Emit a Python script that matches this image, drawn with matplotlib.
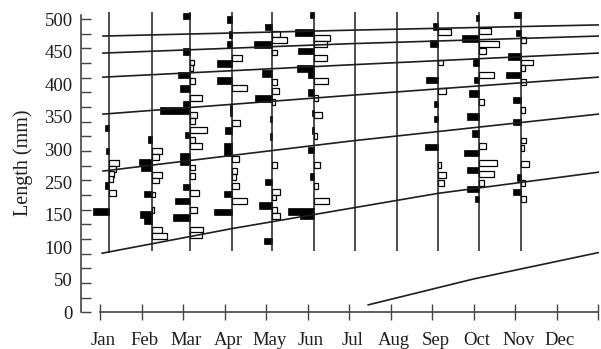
import numpy as np
import matplotlib
matplotlib.use("Agg")
from matplotlib import pyplot as plt
from matplotlib.ticker import FixedLocator

plt.rcParams['font.family'] = ['Liberation Serif', 'DejaVu Serif']

months = ["Jan", "Feb", "Mar", "Apr", "May", "Jun",
          "Jul", "Aug", "Sep", "Oct", "Nov", "Dec"]
y_labels = ["0", "50", "100", "150", "250", "300", "350", "400", "450", "500"]

# sampling date of each monthly haul, in months from 1 Jan
sample_names = ["Jan", "Feb", "Mar", "Apr", "May", "Jun",
                "Jul", "Aug", "Sep", "Oct", "Nov"]
sample_month = [0.22, 1.25, 2.16, 3.18, 4.15, 5.16,
                6.14, 7.16, 8.14, 9.13, 10.14]

# length-frequency per haul: (class midpoint in mm, frequency)
# dark = drawn to the left of the haul line, light = to the right
jan_dark = [(314, 4), (275, 3), (216, 4), (172, 16)]
jan_light = [(254, 10), (245, 7), (236, 5), (228, 4), (203, 7)]

feb_dark = [(295, 4), (256, 13), (246, 11), (202, 8), (167, 12), (157, 8)]
feb_light = [(275, 10), (265, 7), (234, 10), (225, 7), (201, 3), (175, 2),
             (141, 10), (130, 15)]

mar_dark = [(505, 7), (445, 7), (405, 12), (382, 10), (355, 7), (344, 30),
            (302, 5), (267, 10), (257, 10), (214, 7), (190, 15), (162, 17)]
mar_light = [(426, 4), (417, 3), (395, 5), (366, 12), (336, 7), (327, 5),
             (311, 17), (294, 5), (283, 12), (247, 5), (233, 5), (204, 9),
             (175, 7), (141, 13), (132, 12)]

apr_dark = [(499, 5), (474, 3), (457, 5), (424, 15), (395, 15), (350, 2),
            (340, 2), (310, 7), (284, 8), (273, 8), (202, 8), (171, 18)]
apr_light = [(434, 10), (383, 15), (323, 8), (262, 7), (241, 5), (231, 4),
             (216, 7), (190, 15)]

may_dark = [(486, 7), (457, 18), (407, 10), (365, 17), (330, 2), (300, 2),
            (222, 7), (182, 13), (122, 8)]
may_light = [(474, 8), (464, 15), (443, 5), (392, 5), (378, 7), (358, 3),
             (252, 5), (206, 8), (196, 4), (174, 5), (165, 8)]

jun_dark = [(507, 4), (477, 19), (446, 16), (416, 17), (405, 6), (375, 6),
            (340, 2), (310, 2), (277, 6), (232, 4), (172, 26), (164, 14)]
jun_light = [(467, 16), (458, 13), (434, 13), (395, 14), (366, 4), (336, 8),
             (300, 3), (252, 6), (215, 4), (190, 15)]

sep_dark = [(487, 5), (458, 8), (396, 12), (355, 4), (330, 4), (282, 13)]
sep_light = [(478, 13), (426, 5), (377, 8), (252, 3), (234, 8), (221, 6)]

oct_dark = [(502, 3), (467, 17), (426, 6), (396, 5), (373, 10), (334, 12),
            (305, 7), (272, 15), (243, 12), (210, 12), (193, 4)]
oct_light = [(480, 12), (457, 20), (446, 7), (405, 15), (358, 5), (283, 7),
             (255, 18), (236, 15), (220, 5)]

nov_dark = [(507, 7), (476, 5), (436, 13), (405, 15), (362, 8), (325, 8),
            (230, 4), (205, 8)]
nov_light = [(464, 5), (426, 12), (417, 4), (392, 5), (345, 4), (293, 5),
             (280, 3), (253, 8), (221, 4), (193, 5)]

hauls = [("Jan", jan_dark, jan_light), ("Feb", feb_dark, feb_light),
         ("Mar", mar_dark, mar_light), ("Apr", apr_dark, apr_light),
         ("May", may_dark, may_light), ("Jun", jun_dark, jun_light),
         ("Sep", sep_dark, sep_light), ("Oct", oct_dark, oct_light),
         ("Nov", nov_dark, nov_light)]

# growth curves of successive cohorts (months, mean length mm)
cohort_months = [
    [0.07, 6.02, 12.0],
    [0.07, 6.02, 12.0],
    [0.07, 6.02, 12.0],
    [0.07, 6.02, 12.0],
    [0.07, 6.02, 12.0],
    [0.05, 3.18, 8.14, 12.0],
    [6.46, 8.99, 12.0],
]
cohort_mm = [
    [471, 481, 490],
    [442, 458, 471],
    [401, 422, 442],
    [338, 370, 401],
    [241, 292, 338],
    [101, 143, 203, 239],
    [13, 57, 102],
]

freq_scale = 1 / 41.5   # months of width per frequency unit
line_bottom = 105
line_top = 512
ink = '#1e1e1e'

fig = plt.figure(figsize=(6.01, 3.49), dpi=100)
ax = fig.add_axes([0.1348, 0.1046, 0.8619, 0.861])

pos = dict(zip(sample_names, sample_month))
for name, dark, light in hauls:
    x0 = pos[name]
    mm, n = zip(*dark)
    ax.barh(mm, [-v * freq_scale for v in n], left=x0, height=11,
            color='black', edgecolor='black', linewidth=0.5, zorder=2)
    mm, n = zip(*light)
    ax.barh(mm, [v * freq_scale for v in n], left=x0, height=10,
            facecolor='white', edgecolor='black', linewidth=0.9, zorder=2)

bottoms = [cohort_mm[5][0]] + [line_bottom] * (len(sample_month) - 1)
ax.vlines(sample_month, bottoms, line_top, color=ink, linewidth=1.1, zorder=3)

for xs, ys in zip(cohort_months, cohort_mm):
    ax.plot(xs, ys, color=ink, linewidth=1.2, zorder=4)

ax.set_xlim(-0.46, 12.02)
ax.set_ylim(0, 512)

for side in ['top', 'right']:
    ax.spines[side].set_visible(False)
ax.spines['left'].set_bounds(0, 507)
ax.spines['bottom'].set_bounds(0, 12)
for side in ['left', 'bottom']:
    ax.spines[side].set_color('#444444')
    ax.spines[side].set_linewidth(1.2)

# labelled positions carry no tick mark; tick marks come from the minor set
ax.set_yticks(np.linspace(0, 500, len(y_labels)), y_labels)
ax.yaxis.set_minor_locator(FixedLocator(np.arange(0, 501, 25)))
ax.yaxis.remove_overlapping_locs = False
ax.tick_params(axis='y', which='major', length=0, pad=6, labelsize=13.5,
               labelcolor=ink)
ax.tick_params(axis='y', which='minor', direction='in', length=7.5,
               width=1, color='#444444')

ax.set_xticks(np.arange(12) + 0.08, months)
ax.xaxis.set_minor_locator(FixedLocator(np.arange(13)))
ax.xaxis.remove_overlapping_locs = False
ax.tick_params(axis='x', which='major', length=0, pad=14, labelsize=13.5,
               labelcolor=ink)
ax.tick_params(axis='x', which='minor', direction='inout', length=11.5,
               width=1, color='#444444')

ax.set_ylabel('Length (mm)', fontsize=14.5, color=ink)
ax.yaxis.set_label_coords(-0.093, 0.5)

fig.savefig('out.png', dpi=100)
